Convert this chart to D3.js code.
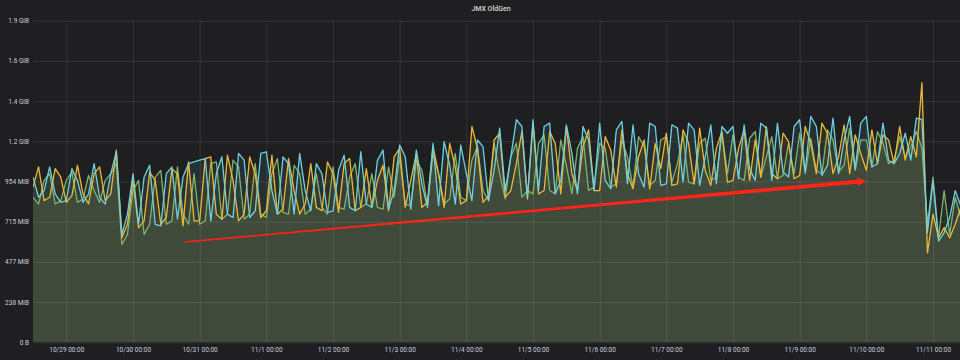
<!DOCTYPE html>
<html>
<head>
<meta charset="utf-8">
<script src="https://cdn.jsdelivr.net/npm/d3@7"></script>
<style>
  html, body { margin: 0; padding: 0; background: #1f1f21; }
  svg { display: block; }
</style>
</head>
<body>
<svg id="chart" width="960" height="360"></svg>
<script>
// ---------------- DATA ----------------
const title = "JMX OldGen";
const seriesNames = ["green", "yellow", "blue"];
const seriesColors = ["#7eb26d", "#eab839", "#6ed0e0"];
const startTime = new Date(2019, 9, 28, 12, 0);   // 10/28 12:00
const stepHours = 2;

// values in MiB, one every 2 hours
const greenValues = [
  860, 820, 960, 1000, 820, 840,
  960, 1010, 830, 850, 990, 900, 830, 960, 1000, 1060, 580, 640,
  900, 960, 640, 700, 980, 1020, 700, 720, 1040, 760, 700, 1000,
  700, 720, 1060, 1070, 730, 760, 1080, 1040, 730, 760, 1060, 760,
  740, 1000, 1090, 770, 760, 1050, 1000, 760, 790, 1000, 800, 760,
  1040, 800, 790, 980, 1060, 800, 820, 1000, 800, 790, 1040, 860,
  1100, 820, 810, 1080, 1020, 810, 1120, 1000, 820, 850, 1120, 860,
  840, 1080, 1160, 900, 840, 1180, 1000, 850, 1100, 1180, 860, 900,
  880, 1180, 1230, 900, 880, 1200, 1050, 880, 1150, 1220, 900, 920,
  1180, 1150, 920, 940, 1200, 1100, 920, 1220, 1160, 930, 960, 1200,
  1220, 950, 1060, 1230, 950, 940, 1180, 1210, 960, 980, 1240, 1000,
  1230, 980, 960, 1210, 1250, 980, 1100, 1220, 970, 990, 1180, 1000,
  1240, 1000, 1210, 1020, 1000, 1260, 1200, 1010, 1050, 1270, 1020, 1200,
  1200, 1040, 1250, 1180, 1060, 1080, 1220, 1100, 1160, 1250,
  1150, 700, 980, 620, 900, 640, 860, 740
];
const yellowValues = [
  920, 1040, 840, 860, 1030, 980,
  830, 870, 1050, 880, 820, 1000, 1040, 840, 880, 1140, 620, 700,
  960, 680, 720, 1010, 960, 700, 740, 1030, 1000, 690, 1070, 720,
  720, 1090, 1100, 760, 730, 1110, 960, 720, 760, 1100, 1000, 740,
  780, 1110, 760, 790, 1090, 900, 760, 820, 1060, 800, 780, 1070,
  1000, 770, 1060, 1090, 780, 800, 1030, 800, 960, 1050, 780, 1100,
  1150, 800, 960, 1120, 800, 830, 1160, 1000, 800, 1180, 1040, 820,
  840, 1280, 1150, 830, 870, 1200, 1240, 860, 900, 1060, 1250, 850,
  1300, 880, 900, 1250, 1180, 880, 1280, 1000, 900, 1160, 1260, 900,
  900, 1220, 1140, 920, 1260, 1000, 910, 1100, 1200, 910, 1180, 1030,
  1240, 930, 940, 1260, 1180, 940, 1270, 1020, 930, 1150, 1250, 950,
  960, 1150, 1260, 960, 1200, 980, 1280, 1000, 970, 1240, 1190, 970,
  990, 1280, 1180, 1000, 1300, 1240, 1000, 1100, 1290, 1000, 1230, 1120,
  1020, 1260, 1060, 1230, 1200, 1060, 1280, 1080, 1220, 1100,
  1540, 530, 760, 620, 680, 620, 700, 800
];
const blueValues = [
  980, 860, 900, 1040, 880, 830,
  840, 1030, 960, 830, 880, 1060, 860, 820, 1000, 1130, 640, 760,
  1000, 700, 980, 1050, 700, 690, 1000, 1040, 730, 980, 1060, 1070,
  1080, 1090, 720, 1000, 1100, 760, 740, 1120, 1080, 740, 780, 1120,
  1130, 900, 760, 1100, 1060, 760, 1120, 900, 780, 1060, 1000, 770,
  780, 1020, 1110, 800, 780, 1130, 820, 800, 1080, 1140, 790, 900,
  1170, 1100, 790, 1140, 940, 800, 1180, 810, 1190, 1050, 820, 1170,
  1000, 840, 1200, 1160, 840, 1020, 1270, 900, 1100, 1320, 1280, 860,
  1320, 900, 1280, 1300, 880, 960, 1290, 1120, 880, 1280, 1200, 900,
  1300, 960, 910, 1260, 1310, 940, 1290, 1000, 920, 1300, 1280, 930,
  940, 1290, 1270, 950, 1300, 1260, 930, 1100, 1290, 940, 1280, 1240,
  1280, 970, 1290, 1030, 960, 1300, 1270, 960, 1300, 1010, 980, 1280,
  1320, 1010, 1340, 1280, 990, 1050, 1330, 1000, 1200, 1340, 1030, 1300,
  1340, 1040, 1060, 1300, 1080, 1060, 1120, 1240, 1080, 1330,
  1320, 650, 960, 600, 650, 740, 900, 810
];

// y axis ticks (bytes) and their labels
const yTickValues = [0, 250e6, 500e6, 750e6, 1000e6, 1250e6, 1500e6, 1750e6, 2000e6];
const yTickLabels = ["0 B", "238 MiB", "477 MiB", "715 MiB", "954 MiB", "1.2 GiB", "1.4 GiB", "1.6 GiB", "1.9 GiB"];

// x axis ticks
const xTickDates = ["2019-10-29", "2019-10-30", "2019-10-31", "2019-11-01", "2019-11-02", "2019-11-03",
  "2019-11-04", "2019-11-05", "2019-11-06", "2019-11-07", "2019-11-08", "2019-11-09", "2019-11-10", "2019-11-11"];
const xTickLabels = ["10/29 00:00", "10/30 00:00", "10/31 00:00", "11/1 00:00", "11/2 00:00", "11/3 00:00",
  "11/4 00:00", "11/5 00:00", "11/6 00:00", "11/7 00:00", "11/8 00:00", "11/9 00:00", "11/10 00:00", "11/11 00:00"];

// annotation arrow (time, MiB)
const arrowStart = { time: new Date(2019, 9, 30, 18, 40), mib: 595 };
const arrowEnd = { time: new Date(2019, 10, 10, 0, 0), mib: 957 };

// ---------------- CHART ----------------
const MiB = 1048576;
const svg = d3.select("#chart");
const W = 960, H = 360;
const plot = { left: 33, right: 960, top: 20.7, bottom: 342.3 };

const x = d3.scaleTime()
  .domain([startTime, new Date(2019, 10, 11, 9, 43)])
  .range([plot.left, plot.right]);
const y = d3.scaleLinear()
  .domain([0, 2e9])
  .range([plot.bottom, plot.top]);

svg.append("rect").attr("width", W).attr("height", H).attr("fill", "#1f1f21");

// title
svg.append("text")
  .attr("x", 491).attr("y", 10.5)
  .attr("text-anchor", "middle")
  .attr("font-family", "Roboto, sans-serif")
  .attr("font-size", 7).attr("font-weight", 500)
  .attr("fill", "#d8d9da")
  .text(title);

const defs = svg.append("defs");
defs.append("clipPath").attr("id", "clip")
  .append("rect")
  .attr("x", plot.left).attr("y", plot.top - 5)
  .attr("width", plot.right - plot.left).attr("height", plot.bottom - plot.top + 5);

const xTicks = xTickDates.map(s => { const [yy, mm, dd] = s.split("-").map(Number); return new Date(yy, mm - 1, dd); });

// series data
const allSeries = [greenValues, yellowValues, blueValues].map((vals, k) => ({
  name: seriesNames[k],
  color: seriesColors[k],
  points: vals.map((v, i) => ({ t: new Date(startTime.getTime() + i * stepHours * 3600e3), v: v * MiB }))
}));

const area = d3.area().x(d => x(d.t)).y0(y(0)).y1(d => y(d.v));
const line = d3.line().x(d => x(d.t)).y(d => y(d.v));

const gPlot = svg.append("g").attr("clip-path", "url(#clip)");
gPlot.selectAll("path.fill").data(allSeries).join("path")
  .attr("class", "fill")
  .attr("d", d => area(d.points))
  .attr("fill", d => d.color)
  .attr("fill-opacity", 0.1);

// grid lines (over fills, translucent)
const yAxisGrid = d3.axisLeft(y).tickValues(yTickValues).tickSize(-(plot.right - plot.left)).tickFormat("");
const gy = svg.append("g").attr("transform", `translate(${plot.left},0)`).call(yAxisGrid);
gy.select(".domain").remove();
gy.selectAll("line").attr("stroke", "#ffffff").attr("stroke-opacity", 0.09);

const xAxisGrid = d3.axisBottom(x).tickValues(xTicks).tickSize(-(plot.bottom - plot.top)).tickFormat("");
const gx = svg.append("g").attr("transform", `translate(0,${plot.bottom})`).call(xAxisGrid);
gx.select(".domain").remove();
gx.selectAll("line").attr("stroke", "#ffffff").attr("stroke-opacity", 0.09);

// lines
const gLines = svg.append("g").attr("clip-path", "url(#clip)");
gLines.selectAll("path.line").data(allSeries).join("path")
  .attr("class", "line")
  .attr("d", d => line(d.points))
  .attr("fill", "none")
  .attr("stroke", d => d.color)
  .attr("stroke-width", 1.3)
  .attr("stroke-linejoin", "round");

// axis labels
const yAxis = d3.axisLeft(y).tickValues(yTickValues).tickSize(0).tickPadding(4)
  .tickFormat((d, i) => yTickLabels[i]);
const gyl = svg.append("g").attr("transform", `translate(${plot.left},0)`).call(yAxis);
gyl.select(".domain").remove();
gyl.selectAll("text").attr("font-family", "Roboto, sans-serif").attr("font-size", 6.5).attr("fill", "#c7d0d9");

const xAxis = d3.axisBottom(x).tickValues(xTicks).tickSize(0).tickPadding(5)
  .tickFormat((d, i) => xTickLabels[i]);
const gxl = svg.append("g").attr("transform", `translate(0,${plot.bottom})`).call(xAxis);
gxl.select(".domain").remove();
gxl.selectAll("text").attr("font-family", "Roboto, sans-serif").attr("font-size", 6.5).attr("fill", "#c7d0d9");

// red tapered arrow annotation
const x0 = x(arrowStart.time), y0 = y(arrowStart.mib * MiB);
const x1 = x(arrowEnd.time), y1 = y(arrowEnd.mib * MiB);
const dx = x1 - x0, dy = y1 - y0, len = Math.hypot(dx, dy);
const ux = dx / len, uy = dy / len, nx = -uy, ny = ux;
const headLen = 9, headHalf = 4.2, w0 = 0.7, w1 = 2.0;
const bx = x1 - ux * headLen, by = y1 - uy * headLen;
const pts = [
  [x0 + nx * w0, y0 + ny * w0],
  [bx + nx * w1, by + ny * w1],
  [bx + nx * headHalf, by + ny * headHalf],
  [x1, y1],
  [bx - nx * headHalf, by - ny * headHalf],
  [bx - nx * w1, by - ny * w1],
  [x0 - nx * w0, y0 - ny * w0]
];
svg.append("path")
  .attr("d", d3.line()(pts) + "Z")
  .attr("fill", "#ff2418");
</script>
</body>
</html>
